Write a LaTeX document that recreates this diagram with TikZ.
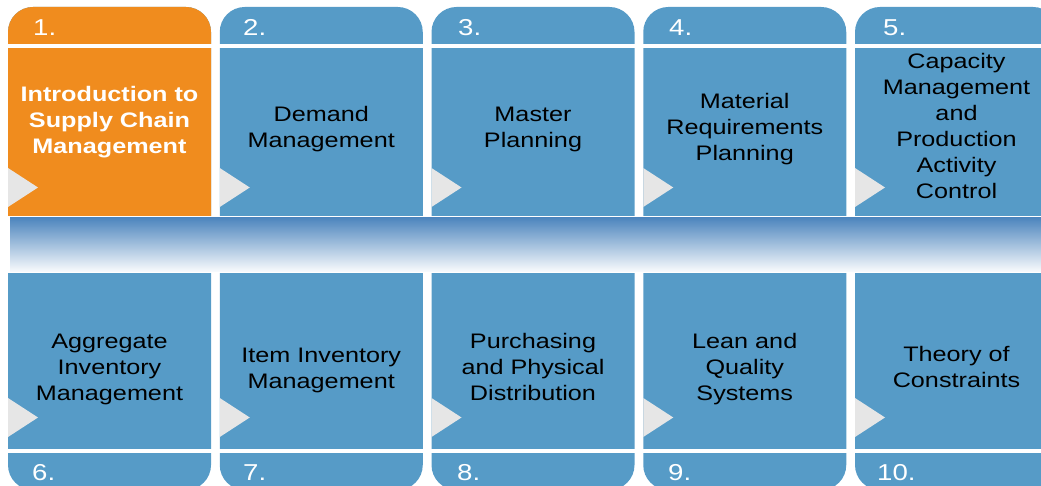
\documentclass[tikz,border=0pt]{standalone}
\usepackage{fontspec}
\usepackage{graphicx}
\usepackage{tikz}
\setmainfont{Liberation Sans}
\definecolor{stepblue}{RGB}{86,155,199}
\definecolor{steporange}{RGB}{240,140,30}
\definecolor{bandtop}{RGB}{78,134,190}
\definecolor{arrowgray}{RGB}{230,230,230}
\newcommand{\wide}[1]{\scalebox{1.2}[1]{\begin{tabular}{@{}c@{}}#1\end{tabular}}}
\tikzset{col/.style = {rounded corners=25pt}}
\tikzset{lbl/.style = {font=\fontsize{21}{26}\selectfont, text=black, inner sep=0}}
\tikzset{num/.style = {font=\fontsize{23}{26}\selectfont, text=white, anchor=base west, inner sep=0}}
\tikzset{tri/.style = {fill=arrowgray}}
\tikzset{gap/.style = {draw=white, line width=4pt}}

\begin{document}
\begin{tikzpicture}[x=1pt, y=-1pt]
      \useasboundingbox (0, 0) rectangle (1041, 486);
      \clip (0, 0) rectangle (1041, 486);

      % columns
      \fill [col, stepblue] (8, 7) rectangle (211, 490);
      \fill [col, stepblue] (219.75, 7) rectangle (422.75, 490);
      \fill [col, stepblue] (431.5, 7) rectangle (634.5, 490);
      \fill [col, stepblue] (643.25, 7) rectangle (846.25, 490);
      \fill [col, stepblue] (855, 7) rectangle (1058, 490);
      \begin{scope}
        \clip (0, 0) rectangle (1041, 217);
        \fill [col, steporange] (8, 7) rectangle (211, 490);
      \end{scope}

      % white lines under and over the tabs
      \draw [gap] (8, 46.5) -- (1041, 46.5);
      \draw [gap] (8, 450.5) -- (1041, 450.5);

      % band
      \fill [white] (0, 216.5) rectangle (1041, 273.5);
      \shade [top color=bandtop, middle color=bandtop!35!white, bottom color=white!97!bandtop]
            (10, 218) rectangle (1041, 272);

      % arrow heads
      \fill [tri] (8, 168) -- (38, 187.5) -- (8, 207) -- cycle;
      \fill [tri] (219.75, 168) -- (249.75, 187.5) -- (219.75, 207) -- cycle;
      \fill [tri] (431.5, 168) -- (461.5, 187.5) -- (431.5, 207) -- cycle;
      \fill [tri] (643.25, 168) -- (673.25, 187.5) -- (643.25, 207) -- cycle;
      \fill [tri] (855, 168) -- (885, 187.5) -- (855, 207) -- cycle;
      \fill [tri] (8, 398) -- (38, 417.5) -- (8, 437) -- cycle;
      \fill [tri] (219.75, 398) -- (249.75, 417.5) -- (219.75, 437) -- cycle;
      \fill [tri] (431.5, 398) -- (461.5, 417.5) -- (431.5, 437) -- cycle;
      \fill [tri] (643.25, 398) -- (673.25, 417.5) -- (643.25, 437) -- cycle;
      \fill [tri] (855, 398) -- (885, 417.5) -- (855, 437) -- cycle;

      % numbers
      \node [num] (n1) at (33, 36) {\scalebox{1.2}[1]{1.}};
      \node [num] (n2) at (243, 36) {\scalebox{1.2}[1]{2.}};
      \node [num] (n3) at (458, 36) {\scalebox{1.2}[1]{3.}};
      \node [num] (n4) at (669, 36) {\scalebox{1.2}[1]{4.}};
      \node [num] (n5) at (883, 36) {\scalebox{1.2}[1]{5.}};
      \node [num] (n6) at (32, 480) {\scalebox{1.2}[1]{6.}};
      \node [num] (n7) at (243, 480) {\scalebox{1.2}[1]{7.}};
      \node [num] (n8) at (457, 480) {\scalebox{1.2}[1]{8.}};
      \node [num] (n9) at (668, 480) {\scalebox{1.2}[1]{9.}};
      \node [num] (n10) at (877, 480) {\scalebox{1.2}[1]{10.}};

      % topics
      \node [lbl, text=white, font=\fontsize{21}{26}\selectfont\bfseries] (t1) at (109.5, 122)
            {\wide{Introduction to\\Supply Chain\\Management}};
      \node [lbl] (t2) at (321.25, 129) {\wide{Demand\\Management}};
      \node [lbl] (t3) at (533, 129) {\wide{Master\\Planning}};
      \node [lbl] (t4) at (744.75, 129) {\wide{Material\\Requirements\\Planning}};
      \node [lbl] (t5) at (956.5, 128) {\wide{Capacity\\Management\\and\\Production\\Activity\\Control}};
      \node [lbl] (t6) at (109.5, 369) {\wide{Aggregate\\Inventory\\Management}};
      \node [lbl] (t7) at (321.25, 370) {\wide{Item Inventory\\Management}};
      \node [lbl] (t8) at (533, 369) {\wide{Purchasing\\and Physical\\Distribution}};
      \node [lbl] (t9) at (744.75, 369) {\wide{Lean and\\Quality\\Systems}};
      \node [lbl] (t10) at (956.5, 369) {\wide{Theory of\\Constraints}};
    \end{tikzpicture}
\end{document}
